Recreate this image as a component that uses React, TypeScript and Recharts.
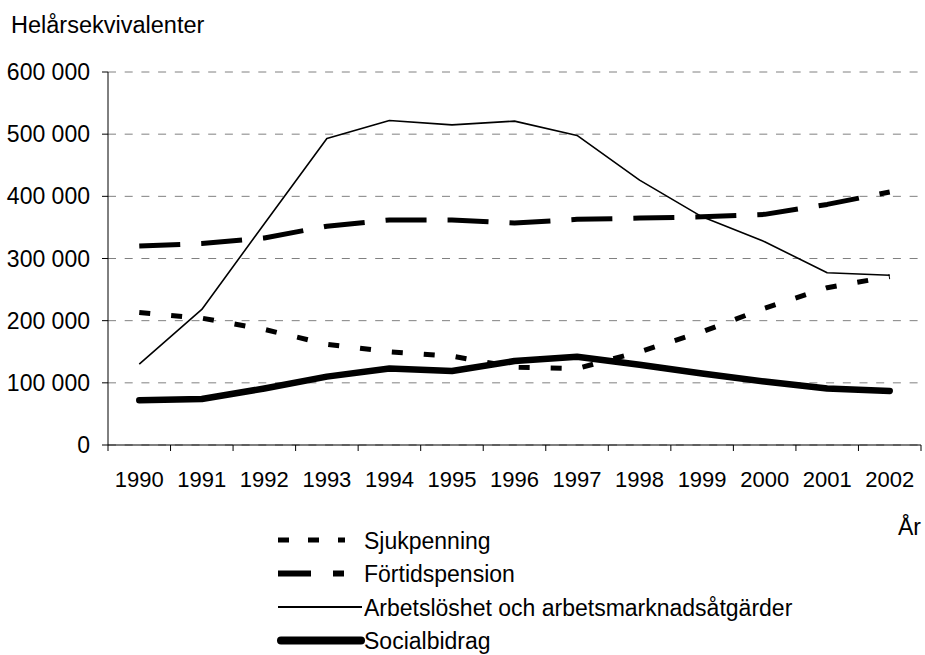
import React from 'react';
import { LineChart, Line, XAxis, YAxis, CartesianGrid } from 'recharts';

const years = ['1990', '1991', '1992', '1993', '1994', '1995', '1996', '1997', '1998', '1999', '2000', '2001', '2002'];

const sjukpenning = [213000, 204000, 186000, 162000, 150000, 143000, 125000, 123000, 150000, 182000, 220000, 253000, 271000];
const fortidspension = [320000, 324000, 333000, 352000, 362000, 362000, 357000, 363000, 365000, 367000, 371000, 387000, 407000];
const arbetsloshet = [130000, 218000, 356000, 493000, 522000, 515000, 521000, 498000, 426000, 367000, 327000, 277000, 273000];
const socialbidrag = [72000, 74000, 91000, 110000, 123000, 119000, 135000, 142000, 129000, 115000, 102000, 91000, 87000];

const yTicks = [0, 100000, 200000, 300000, 400000, 500000, 600000];

const FONT = '"Liberation Sans", Arial, sans-serif';
const X_TICK_SIZE = 6;
const X_TICK_MARGIN = 20;

const data = years.map((year, i) => ({
  idx: i,
  year,
  sjuk: sjukpenning[i],
  fort: fortidspension[i],
  arb: arbetsloshet[i],
  soc: socialbidrag[i],
}));

// tick marks sit on the category boundaries, labels on the centres
const xTicks = [-0.5, ...years.flatMap((_, i) => [i, i + 0.5])];

const series = [
  { key: 'sjuk', name: 'Sjukpenning', width: 5, dash: '11 21', cap: 'butt', legendWidth: 5, legendDash: '11 19' },
  { key: 'fort', name: 'Förtidspension', width: 5, dash: '41 21', cap: 'butt', legendWidth: 6, legendDash: '33 22 11' },
  { key: 'arb', name: 'Arbetslöshet och arbetsmarknadsåtgärder', width: 1.6, dash: undefined, cap: 'butt', legendWidth: 2, legendDash: undefined },
  { key: 'soc', name: 'Socialbidrag', width: 6.5, dash: undefined, cap: 'round', legendWidth: 8, legendDash: undefined },
];

const formatY = (v: number) => (v === 0 ? '0' : `${Math.round(v / 1000)} 000`);

const XTick = (props: any) => {
  const { x, y, payload } = props;
  const v = payload.value;
  if (!Number.isInteger(v)) {
    return <line x1={x} x2={x} y1={y - X_TICK_MARGIN - X_TICK_SIZE} y2={y - X_TICK_MARGIN} stroke="#000" strokeWidth={1} />;
  }
  return (
    <text x={x} y={y} dy="0.71em" textAnchor="middle" fontSize={22} fill="#000" fontFamily={FONT}>
      {years[v]}
    </text>
  );
};

export default function App() {
  return (
    <div style={{ position: 'relative', width: 925, height: 655, background: '#fff', fontFamily: FONT }}>
      <style>{'body{margin:0;background:#fff}'}</style>
      <LineChart width={925} height={655} data={data} margin={{ top: 72, right: 4, left: 0, bottom: 180 }}>
        <CartesianGrid vertical={false} stroke="#808080" strokeDasharray="8 8.7" />
        <XAxis
          type="number"
          dataKey="idx"
          domain={[-0.5, 12.5]}
          ticks={xTicks}
          interval={0}
          height={30}
          tickLine={false}
          tickSize={X_TICK_SIZE}
          tickMargin={X_TICK_MARGIN}
          axisLine={{ stroke: '#000', strokeWidth: 1 }}
          tick={<XTick />}
        />
        <YAxis
          domain={[0, 600000]}
          ticks={yTicks}
          interval={0}
          width={108}
          tickSize={6}
          tickMargin={12}
          tickFormatter={formatY}
          axisLine={{ stroke: '#000', strokeWidth: 1 }}
          tickLine={{ stroke: '#000', strokeWidth: 1 }}
          tick={{ fontSize: 23, fill: '#000', fontFamily: FONT }}
        />
        {series.map((s) => (
          <Line
            key={s.key}
            type="linear"
            dataKey={s.key}
            name={s.name}
            stroke="#000"
            strokeWidth={s.width}
            strokeDasharray={s.dash}
            strokeLinecap={s.cap as any}
            strokeLinejoin="round"
            dot={false}
            activeDot={false}
            isAnimationActive={false}
          />
        ))}
      </LineChart>

      <svg width={925} height={655} style={{ position: 'absolute', left: 0, top: 0, pointerEvents: 'none' }}>
        <text x={11} y={33} fontSize={23.5} fill="#000" fontFamily={FONT}>
          Helårsekvivalenter
        </text>
        <text x={921} y={535} fontSize={23} fill="#000" fontFamily={FONT} textAnchor="end">
          År
        </text>
        {series.map((s, i) => {
          const cy = 540 + i * 33.5;
          const round = s.cap === 'round';
          return (
            <g key={s.key}>
              <line
                x1={round ? 281 : 278}
                x2={round ? 361 : s.legendDash ? 345 : 362}
                y1={cy}
                y2={cy}
                stroke="#000"
                strokeWidth={s.legendWidth}
                strokeDasharray={s.legendDash}
                strokeLinecap={s.cap as any}
              />
              <text x={364} y={cy + 8.5} fontSize={23} fill="#000" fontFamily={FONT}>
                {s.name}
              </text>
            </g>
          );
        })}
      </svg>
    </div>
  );
}
